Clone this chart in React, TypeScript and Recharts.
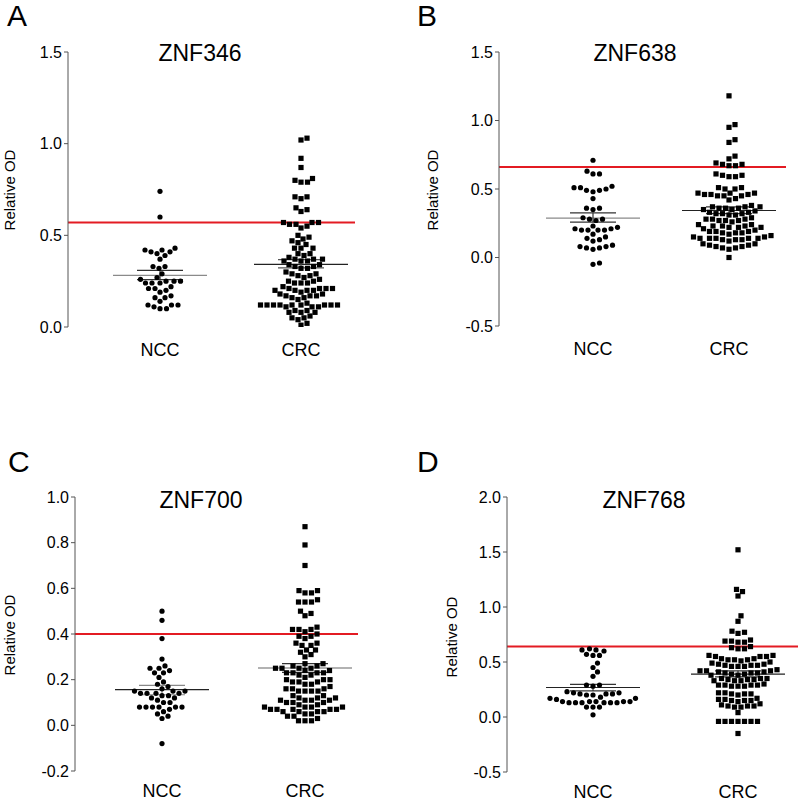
import React from 'react';
import { ComposedChart, Scatter, XAxis, YAxis, ReferenceLine } from 'recharts';

const groups = ['NCC', 'CRC'];

// ZNF346
const znf346Ncc = [0.74, 0.6, 0.43, 0.42, 0.42, 0.41, 0.41, 0.4, 0.39, 0.37, 0.33, 0.33, 0.32, 0.29, 0.27, 0.26, 0.25, 0.25, 0.25, 0.24, 0.24, 0.24, 0.22, 0.21, 0.21, 0.2, 0.19, 0.17, 0.16, 0.16, 0.14, 0.12, 0.12, 0.12, 0.11, 0.1, 0.1];
const znf346Crc = [1.03, 1.02, 0.92, 0.87, 0.81, 0.8, 0.79, 0.79, 0.71, 0.71, 0.7, 0.65, 0.64, 0.63, 0.57, 0.57, 0.57, 0.56, 0.56, 0.55, 0.54, 0.5, 0.49, 0.48, 0.47, 0.46, 0.45, 0.43, 0.43, 0.43, 0.4, 0.4, 0.39, 0.38, 0.37, 0.37, 0.37, 0.36, 0.36, 0.36, 0.34, 0.34, 0.33, 0.33, 0.32, 0.32, 0.3, 0.29, 0.29, 0.28, 0.28, 0.27, 0.26, 0.25, 0.25, 0.24, 0.24, 0.24, 0.22, 0.21, 0.21, 0.21, 0.21, 0.2, 0.2, 0.2, 0.2, 0.19, 0.18, 0.18, 0.17, 0.17, 0.17, 0.16, 0.16, 0.15, 0.13, 0.12, 0.12, 0.12, 0.12, 0.12, 0.12, 0.12, 0.12, 0.12, 0.11, 0.11, 0.11, 0.09, 0.09, 0.08, 0.08, 0.08, 0.06, 0.05, 0.05, 0.04, 0.02, 0.01];
const znf346Mean = [0.282, 0.342];
const znf346SemLo = [0.258, 0.322];
const znf346SemHi = [0.309, 0.367];
const znf346Cutoff = 0.57;

// ZNF638
const znf638Ncc = [0.71, 0.63, 0.61, 0.61, 0.52, 0.51, 0.51, 0.5, 0.49, 0.49, 0.48, 0.43, 0.36, 0.36, 0.35, 0.29, 0.28, 0.28, 0.27, 0.23, 0.22, 0.21, 0.21, 0.2, 0.2, 0.2, 0.2, 0.17, 0.15, 0.14, 0.13, 0.12, 0.09, 0.08, 0.08, 0.07, 0.07, 0.06, -0.04, -0.05];
const znf638Crc = [1.18, 0.97, 0.95, 0.86, 0.84, 0.74, 0.72, 0.69, 0.68, 0.68, 0.67, 0.67, 0.61, 0.6, 0.6, 0.59, 0.59, 0.51, 0.51, 0.5, 0.5, 0.47, 0.47, 0.47, 0.46, 0.46, 0.46, 0.45, 0.45, 0.45, 0.43, 0.42, 0.38, 0.37, 0.37, 0.37, 0.36, 0.36, 0.36, 0.35, 0.35, 0.34, 0.33, 0.33, 0.32, 0.32, 0.32, 0.31, 0.31, 0.29, 0.28, 0.28, 0.28, 0.27, 0.27, 0.27, 0.26, 0.24, 0.24, 0.23, 0.23, 0.23, 0.22, 0.22, 0.22, 0.21, 0.2, 0.19, 0.19, 0.19, 0.18, 0.18, 0.18, 0.17, 0.16, 0.15, 0.15, 0.14, 0.14, 0.14, 0.14, 0.14, 0.13, 0.13, 0.13, 0.12, 0.1, 0.1, 0.09, 0.09, 0.08, 0.08, 0.07, 0.07, 0.06, 0.0];
const znf638Mean = [0.287, 0.343];
const znf638SemLo = [0.258, 0.32];
const znf638SemHi = [0.326, 0.37];
const znf638Cutoff = 0.66;

// ZNF700
const znf700Ncc = [0.5, 0.46, 0.38, 0.29, 0.26, 0.25, 0.25, 0.24, 0.23, 0.23, 0.21, 0.19, 0.18, 0.17, 0.16, 0.15, 0.15, 0.15, 0.14, 0.14, 0.14, 0.14, 0.13, 0.13, 0.12, 0.12, 0.11, 0.1, 0.1, 0.08, 0.08, 0.08, 0.08, 0.08, 0.08, 0.07, 0.06, 0.05, 0.04, 0.03, -0.08];
const znf700Crc = [0.87, 0.79, 0.7, 0.59, 0.59, 0.58, 0.58, 0.55, 0.54, 0.54, 0.54, 0.5, 0.49, 0.48, 0.43, 0.42, 0.42, 0.42, 0.41, 0.4, 0.39, 0.39, 0.38, 0.36, 0.36, 0.35, 0.35, 0.33, 0.33, 0.32, 0.31, 0.3, 0.27, 0.27, 0.26, 0.26, 0.25, 0.25, 0.25, 0.25, 0.24, 0.24, 0.23, 0.23, 0.23, 0.23, 0.22, 0.22, 0.21, 0.2, 0.2, 0.2, 0.19, 0.19, 0.19, 0.18, 0.18, 0.17, 0.16, 0.16, 0.16, 0.15, 0.15, 0.15, 0.15, 0.13, 0.13, 0.12, 0.12, 0.12, 0.11, 0.11, 0.11, 0.11, 0.1, 0.1, 0.1, 0.09, 0.09, 0.08, 0.08, 0.08, 0.08, 0.07, 0.07, 0.07, 0.07, 0.07, 0.06, 0.06, 0.06, 0.06, 0.05, 0.05, 0.04, 0.04, 0.03, 0.02, 0.02, 0.02];
const znf700Mean = [0.156, 0.251];
const znf700SemLo = [0.134, 0.232];
const znf700SemHi = [0.175, 0.27];
const znf700Cutoff = 0.4;

// ZNF768
const znf768Ncc = [0.62, 0.61, 0.61, 0.6, 0.57, 0.56, 0.56, 0.49, 0.45, 0.41, 0.37, 0.29, 0.29, 0.28, 0.23, 0.22, 0.22, 0.21, 0.21, 0.21, 0.2, 0.2, 0.18, 0.17, 0.17, 0.16, 0.14, 0.14, 0.14, 0.13, 0.13, 0.13, 0.13, 0.13, 0.13, 0.14, 0.14, 0.09, 0.09, 0.09, 0.02];
const znf768Crc = [1.52, 1.16, 1.14, 1.1, 0.92, 0.87, 0.78, 0.77, 0.76, 0.7, 0.69, 0.68, 0.68, 0.69, 0.64, 0.63, 0.62, 0.62, 0.56, 0.56, 0.55, 0.55, 0.55, 0.53, 0.53, 0.52, 0.52, 0.52, 0.51, 0.5, 0.49, 0.48, 0.48, 0.47, 0.47, 0.47, 0.46, 0.46, 0.46, 0.43, 0.42, 0.42, 0.42, 0.41, 0.41, 0.4, 0.4, 0.4, 0.39, 0.39, 0.38, 0.38, 0.35, 0.35, 0.35, 0.34, 0.34, 0.33, 0.33, 0.33, 0.34, 0.3, 0.29, 0.29, 0.29, 0.28, 0.28, 0.28, 0.29, 0.22, 0.22, 0.21, 0.21, 0.2, 0.21, 0.17, 0.16, 0.16, 0.15, 0.15, 0.15, 0.14, 0.12, 0.11, 0.1, 0.1, 0.09, 0.09, 0.1, 0.04, -0.04, -0.04, -0.04, -0.04, -0.04, -0.04, -0.04, -0.15];
const znf768Mean = [0.268, 0.39];
const znf768SemLo = [0.237, 0.365];
const znf768SemHi = [0.296, 0.42];
const znf768Cutoff = 0.64;

const FONT = '"Liberation Sans", Arial, sans-serif';
const RED = '#e31b23';

// greedy beeswarm: returns horizontal pixel offsets for each value
function swarm(values: number[], pxPerY: number, d: number) {
  const order = values.map((v, i) => ({ v, i })).sort((a, b) => a.v - b.v);
  const placed: { x: number; y: number }[] = [];
  const out: number[] = new Array(values.length).fill(0);
  for (const p of order) {
    const y = p.v * pxPerY;
    const near = placed.filter((q) => Math.abs(q.y - y) < d);
    let best = 0;
    for (let k = 0; k < 400; k++) {
      const cand = k === 0 ? 0 : (k % 2 ? 1 : -1) * Math.ceil(k / 2) * 0.5;
      if (near.every((q) => Math.hypot(q.x - cand, q.y - y) >= d)) {
        best = cand;
        break;
      }
    }
    placed.push({ x: best, y });
    out[p.i] = best;
  }
  return out;
}

const dot = (p: any) => <circle cx={p.cx} cy={p.cy} r={2.6} fill="#000" />;
const square = (p: any) => <rect x={p.cx - 2.6} y={p.cy - 2.6} width={5.2} height={5.2} fill="#000" />;

type PanelProps = {
  letter: string;
  title: string;
  left: number;
  top: number;
  height: number;
  labelGap: number;
  axisX: number;
  centers: number[];
  lineEnd: number;
  yTop: number;
  yBot: number;
  domain: [number, number];
  ticks: number[];
  ncc: number[];
  crc: number[];
  mean: number[];
  semLo: number[];
  semHi: number[];
  cutoff: number;
  meanColor: string[];
  semColor: string[];
};

function Panel(p: PanelProps) {
  const yAxisW = 60;
  const xAxisH = 20;
  const pxPerX = p.centers[1] - p.centers[0];
  const lo = 1 - (p.centers[0] - p.axisX) / pxPerX;
  const hi = 1 + (p.lineEnd - p.centers[0]) / pxPerX;
  const pxPerY = (p.yBot - p.yTop) / (p.domain[1] - p.domain[0]);
  const nccOff = swarm(p.ncc, pxPerY, 6.2);
  const crcOff = swarm(p.crc, pxPerY, 6.2);
  const nccPts = p.ncc.map((v, i) => ({ x: 1 + nccOff[i] / pxPerX, y: v }));
  const crcPts = p.crc.map((v, i) => ({ x: 2 + crcOff[i] / pxPerX, y: v }));
  const meanHalf = 47 / pxPerX;
  const semHalf = 23 / pxPerX;
  const margin = {
    top: p.yTop - p.top,
    bottom: p.top + p.height - p.yBot - xAxisH,
    left: p.axisX - p.left - yAxisW,
    right: p.left + 400 - p.lineEnd,
  };
  return (
    <div style={{ position: 'absolute', left: p.left, top: p.top, width: 400, height: p.height }}>
      <ComposedChart width={400} height={p.height} margin={margin}>
        <XAxis
          type="number"
          dataKey="x"
          domain={[lo, hi]}
          ticks={[1, 2]}
          tickFormatter={(v: number) => groups[v - 1]}
          axisLine={false}
          tickLine={false}
          tickSize={0}
          tickMargin={p.labelGap}
          height={xAxisH}
          allowDataOverflow
          tick={{ fontSize: 18, fill: '#000', fontFamily: FONT }}
        />
        <YAxis
          type="number"
          dataKey="y"
          domain={p.domain}
          ticks={p.ticks}
          tickFormatter={(v: number) => v.toFixed(1)}
          width={yAxisW}
          stroke="#555"
          tickSize={4}
          tickMargin={2}
          allowDataOverflow
          tick={{ fontSize: 16, fill: '#000', fontFamily: FONT }}
        />
        <ReferenceLine y={p.cutoff} stroke={RED} strokeWidth={2} />
        {[0, 1].map((g) => (
          <ReferenceLine
            key={'m' + g}
            segment={[{ x: g + 1 - meanHalf, y: p.mean[g] }, { x: g + 1 + meanHalf, y: p.mean[g] }]}
            stroke={p.meanColor[g]}
            strokeWidth={1.2}
          />
        ))}
        {[0, 1].map((g) => (
          <ReferenceLine
            key={'l' + g}
            segment={[{ x: g + 1 - semHalf, y: p.semLo[g] }, { x: g + 1 + semHalf, y: p.semLo[g] }]}
            stroke={p.semColor[g]}
            strokeWidth={1.2}
          />
        ))}
        {[0, 1].map((g) => (
          <ReferenceLine
            key={'h' + g}
            segment={[{ x: g + 1 - semHalf, y: p.semHi[g] }, { x: g + 1 + semHalf, y: p.semHi[g] }]}
            stroke={p.semColor[g]}
            strokeWidth={1.2}
          />
        ))}
        {[0, 1].map((g) => (
          <ReferenceLine
            key={'v' + g}
            segment={[{ x: g + 1, y: p.semLo[g] }, { x: g + 1, y: p.semHi[g] }]}
            stroke={p.semColor[g]}
            strokeWidth={1.2}
          />
        ))}
        <Scatter data={nccPts} shape={dot} isAnimationActive={false} />
        <Scatter data={crcPts} shape={square} isAnimationActive={false} />
      </ComposedChart>
    </div>
  );
}

const panels: PanelProps[] = [
  {
    letter: 'A', title: 'ZNF346', left: 0, top: 0, height: 400, labelGap: 16,
    axisX: 68, centers: [160, 301], lineEnd: 355, yTop: 52, yBot: 327,
    domain: [0, 1.5], ticks: [0, 0.5, 1, 1.5],
    ncc: znf346Ncc, crc: znf346Crc, mean: znf346Mean, semLo: znf346SemLo, semHi: znf346SemHi,
    cutoff: znf346Cutoff, meanColor: ['#8a8a8a', '#222'], semColor: ['#333', '#555'],
  },
  {
    letter: 'B', title: 'ZNF638', left: 400, top: 0, height: 400, labelGap: 16,
    axisX: 499, centers: [593, 729], lineEnd: 786, yTop: 52, yBot: 326,
    domain: [-0.5, 1.5], ticks: [-0.5, 0, 0.5, 1, 1.5],
    ncc: znf638Ncc, crc: znf638Crc, mean: znf638Mean, semLo: znf638SemLo, semHi: znf638SemHi,
    cutoff: znf638Cutoff, meanColor: ['#8a8a8a', '#222'], semColor: ['#333', '#333'],
  },
  {
    letter: 'C', title: 'ZNF700', left: 0, top: 400, height: 403, labelGap: 13,
    axisX: 75, centers: [162, 305], lineEnd: 358, yTop: 497, yBot: 771,
    domain: [-0.2, 1], ticks: [-0.2, 0, 0.2, 0.4, 0.6, 0.8, 1],
    ncc: znf700Ncc, crc: znf700Crc, mean: znf700Mean, semLo: znf700SemLo, semHi: znf700SemHi,
    cutoff: znf700Cutoff, meanColor: ['#222', '#666'], semColor: ['#888', '#333'],
  },
  {
    letter: 'D', title: 'ZNF768', left: 400, top: 400, height: 403, labelGap: 13,
    axisX: 507, centers: [593, 738], lineEnd: 798, yTop: 497, yBot: 772,
    domain: [-0.5, 2], ticks: [-0.5, 0, 0.5, 1, 1.5, 2],
    ncc: znf768Ncc, crc: znf768Crc, mean: znf768Mean, semLo: znf768SemLo, semHi: znf768SemHi,
    cutoff: znf768Cutoff, meanColor: ['#222', '#222'], semColor: ['#333', '#333'],
  },
];

const labels = [
  { letter: 'A', lx: 7, ly: 26, tx: 200, ty: 61, ox: 15, oy: 190 },
  { letter: 'B', lx: 417, ly: 26, tx: 635, ty: 61, ox: 438, oy: 190 },
  { letter: 'C', lx: 8, ly: 472, tx: 201, ty: 508, ox: 15, oy: 635 },
  { letter: 'D', lx: 417, ly: 472, tx: 644, ty: 508, ox: 457, oy: 637 },
];

export default function App() {
  return (
    <div style={{ position: 'absolute', left: 0, top: 0, width: 800, height: 803, background: '#fff', overflow: 'hidden' }}>
      {panels.map((p) => (
        <Panel key={p.letter} {...p} />
      ))}
      <svg width={800} height={803} style={{ position: 'absolute', left: 0, top: 0, pointerEvents: 'none' }}>
        {labels.map((l, i) => (
          <g key={l.letter} fontFamily={FONT} fill="#000">
            <text x={l.lx} y={l.ly} fontSize={30}>{l.letter}</text>
            <text x={l.tx} y={l.ty} fontSize={23} textAnchor="middle">{panels[i].title}</text>
            <text x={l.ox} y={l.oy} fontSize={15} textAnchor="middle" transform={`rotate(-90 ${l.ox} ${l.oy})`}>
              Relative OD
            </text>
          </g>
        ))}
      </svg>
    </div>
  );
}
